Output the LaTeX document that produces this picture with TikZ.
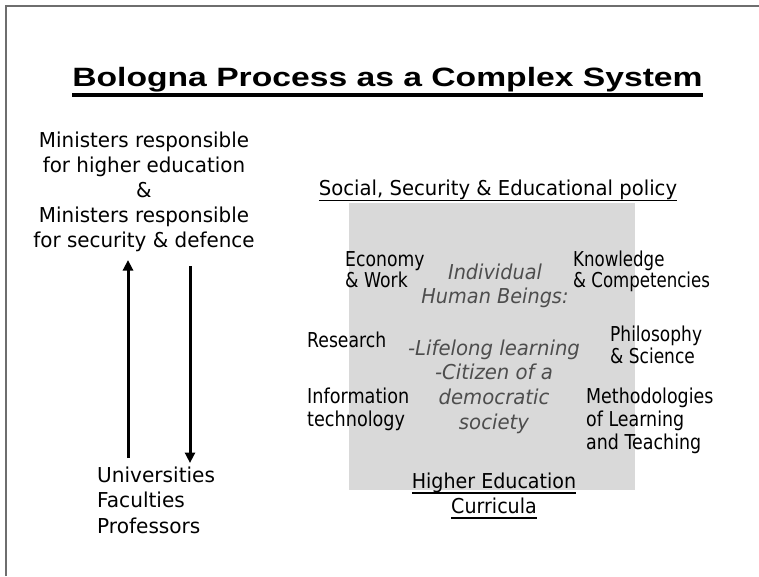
\documentclass[tikz,border=0pt]{standalone}
\usepackage{fontspec}
\usetikzlibrary{arrows.meta}
\setmainfont{DejaVu Sans}
\newfontfamily\bodyfont{DejaVu Sans}
\newfontfamily\titlefont[FakeStretch=1.27]{Liberation Sans}
\definecolor{framegray}{HTML}{6E6E6E}
\definecolor{boxgray}{HTML}{D9D9D9}
\definecolor{itgray}{HTML}{4D4D4D}
\newcommand\Lb[2]{\vtop{\baselineskip=#1pt\lineskiplimit=-100pt\halign{##\hfil\cr#2\crcr}}}
\newcommand\Cb[2]{\vtop{\baselineskip=#1pt\lineskiplimit=-100pt\halign{\hfil##\hfil\cr#2\crcr}}}
% underline: #1 depth of the rule's bottom below baseline, #2 thickness, #3 text
\newcommand\ulin[3]{\setbox0=\hbox{#3}\copy0\kern-\wd0\lower#1\hbox{\vrule width\wd0 height#2 depth0pt}}
\begin{document}
\begin{tikzpicture}[x=1pt,y=-1pt,
  txt/.style={inner sep=0pt, text=black, font=\bodyfont\fontsize{20.5}{24}\selectfont\addfontfeature{FakeStretch=#1}},
  itxt/.style={inner sep=0pt, text=itgray, font=\bodyfont\itshape\fontsize{20.5}{24}\selectfont\addfontfeature{FakeStretch=#1}},
  arr/.style={line width=3pt, -{Triangle[length=10.5pt,width=10pt]}}]
\useasboundingbox (0,0) rectangle (759,576);
\fill[white] (0,0) rectangle (759,576);
\draw[framegray, line width=1.8pt] (6,576) -- (6,5.8) -- (759,5.8);
\fill[boxgray] (349,203) rectangle (635,490);
% title
\node[anchor=base, inner sep=0pt, font=\titlefont\bfseries\fontsize{26.5}{30}\selectfont] (title) at (387.5,86.7)
  {\ulin{10.3pt}{3.8pt}{Bologna Process as a Complex System}};
% left side
\node[txt=0.97, anchor=base] (minis) at (144,147)
  {\Cb{25}{Ministers responsible\cr for higher education\cr \&\cr Ministers responsible\cr for security \& defence}};
\node[txt=0.98, anchor=base west] (univ) at (97,482)
  {\Lb{25.5}{Universities\cr Faculties\cr Professors}};
\coordinate (upfrom) at (128,458);
\coordinate (upto) at (128,260);
\coordinate (dnfrom) at (190,266);
\coordinate (dnto) at (190,463);
\draw[arr] (upfrom) -- (upto);
\draw[arr] (dnfrom) -- (dnto);
% right side
\node[txt=0.957, anchor=base] (policy) at (498,195)
  {\ulin{6.2pt}{1.7pt}{Social, Security \& Educational policy}};
\node[txt=0.84, anchor=base west] (econ) at (345,266) {\Lb{21.5}{Economy\cr \& Work}};
\node[txt=0.81, anchor=base west] (know) at (573,266) {\Lb{21.5}{Knowledge\cr \& Competencies}};
\node[itxt=0.94, anchor=base] (indiv) at (495,279) {\Cb{24}{Individual\cr Human Beings:}};
\node[txt=0.84, anchor=base west] (research) at (307,347.7) {Research};
\node[txt=0.83, anchor=base west] (philo) at (610,341) {\Lb{22}{Philosophy\cr \& Science}};
\node[itxt=0.96, anchor=base] (life) at (494,355) {\Cb{24.7}{-Lifelong learning\cr -Citizen of a\cr democratic\cr society}};
\node[txt=0.86, anchor=base west] (info) at (307,403) {\Lb{23}{Information\cr technology}};
\node[txt=0.85, anchor=base west] (method) at (586,403) {\Lb{23}{Methodologies\cr of Learning\cr and Teaching}};
\node[txt=0.93, anchor=base] (curr) at (494,488.3)
  {\Cb{25}{\ulin{5.3pt}{1.7pt}{Higher Education}\cr \ulin{5.3pt}{1.7pt}{Curricula}}};
\end{tikzpicture}
\end{document}
